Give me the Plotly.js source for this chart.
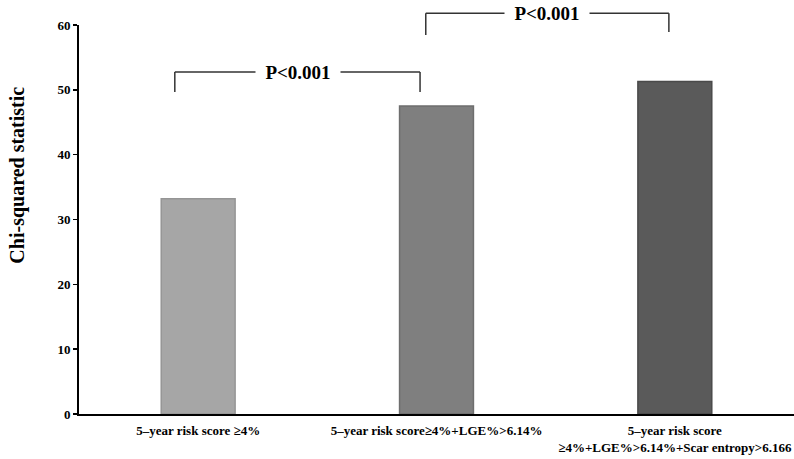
<!DOCTYPE html>
<html>
<head>
<meta charset="utf-8">
<script src="https://cdn.plot.ly/plotly-3.0.1.min.js"></script>
<style>html,body{margin:0;padding:0;background:#fff;}#chart{width:794px;height:459px;}</style>
</head>
<body>
<div id="chart"></div>
<script>
var categories = [
  "5\u2013year risk score \u22654%",
  "5\u2013year risk score\u22654%+LGE%>6.14%",
  "5\u2013year risk score<br>\u22654%+LGE%>6.14%+Scar entropy>6.166"
];
var chiSquared = [33.2, 47.5, 51.3];
var barColors = ["#a6a6a6", "#7f7f7f", "#5a5a5a"];
var edgeColors = ["#959595", "#6e6e6e", "#4a4a4a"];
var yTicks = [0, 10, 20, 30, 40, 50, 60];
var pLabel = "P<0.001";

var FONT = "Liberation Serif, Times New Roman, serif";
var lineStyle = {color: "#333333", width: 1.5};

function seg(x0, y0, x1, y1) {
  return {type: "line", xref: "paper", yref: "paper", x0: x0, y0: y0, x1: x1, y1: y1, line: lineStyle};
}

var shapes = [
  seg(0.134, 0.828, 0.134, 0.879), seg(0.134, 0.879, 0.477, 0.879), seg(0.477, 0.879, 0.477, 0.828),
  seg(0.485, 0.974, 0.485, 1.030), seg(0.485, 1.030, 0.825, 1.030), seg(0.825, 1.030, 0.825, 0.982)
];

var annotations = [
  {xref: "paper", yref: "paper", x: 0.306, y: 0.879, text: pLabel, showarrow: false,
   bgcolor: "#ffffff", width: 84, borderpad: 0, xanchor: "center", yanchor: "middle",
   font: {family: FONT, size: 19, color: "#000", weight: "bold"}},
  {xref: "paper", yref: "paper", x: 0.655, y: 1.030, text: pLabel, showarrow: false,
   bgcolor: "#ffffff", width: 84, borderpad: 0, xanchor: "center", yanchor: "middle",
   font: {family: FONT, size: 19, color: "#000", weight: "bold"}},
  {xref: "paper", yref: "paper", x: 0, xshift: -61.5, y: 0.614, text: "Chi-squared statistic",
   textangle: -90, showarrow: false, xanchor: "center", yanchor: "middle",
   font: {family: FONT, size: 20, color: "#000", weight: "bold"}}
];

var trace = {
  type: "bar",
  x: categories,
  y: chiSquared,
  width: 0.31,
  marker: {color: barColors, line: {color: edgeColors, width: 1.5}},
  hoverinfo: "x+y"
};

var layout = {
  width: 794, height: 459,
  margin: {l: 79, r: 0, t: 25, b: 45, pad: 0},
  paper_bgcolor: "#ffffff", plot_bgcolor: "#ffffff",
  font: {family: FONT, size: 13, color: "#000", weight: "bold"},
  showlegend: false,
  bargap: 0.69,
  xaxis: {
    type: "category", range: [-0.5, 2.5], showline: true, linecolor: "#000", linewidth: 2,
    ticks: "", showgrid: false, zeroline: false, fixedrange: true, ticklabelstandoff: 3,
    tickfont: {family: FONT, size: 13, color: "#000", weight: "bold"}
  },
  yaxis: {
    range: [0, 60], tickvals: yTicks, ticktext: yTicks.map(String), showline: true,
    linecolor: "#000", linewidth: 2, ticks: "outside", ticklen: 4, tickwidth: 1.5, tickcolor: "#000",
    showgrid: false, zeroline: false, fixedrange: true,
    tickfont: {family: FONT, size: 13, color: "#000", weight: "bold"}
  },
  shapes: shapes,
  annotations: annotations
};

Plotly.newPlot("chart", [trace], layout, {displayModeBar: false, staticPlot: true});
</script>
</body>
</html>
